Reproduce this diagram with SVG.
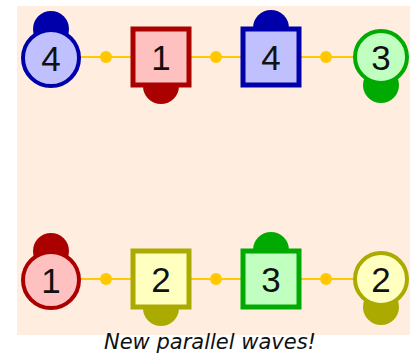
<svg xmlns="http://www.w3.org/2000/svg" width="410" height="354" viewBox="0 0 410 354">
<style>
.lbl{font-family:"Liberation Sans",Arial,sans-serif;font-size:35px;fill:#111;text-anchor:middle;dominant-baseline:central}
.cap{font-family:"DejaVu Sans",Verdana,sans-serif;font-style:italic;font-size:21px;fill:#111;text-anchor:middle}
.ln{stroke:#ffc800;stroke-width:2}
.dot{fill:#ffc800}
.blue{fill:#c0c0ff;stroke:#0000aa}
.red{fill:#ffc0c0;stroke:#aa0000}
.green{fill:#c0ffc0;stroke:#00aa00}
.olive{fill:#ffffc0;stroke:#aaaa00}
.sq{stroke-width:5}
.ci{stroke-width:4}
</style>
<rect x="17" y="6" width="393" height="329" fill="#ffeedf"/>
<g id="connectors">
<line class="ln" x1="51" y1="57" x2="381" y2="57"/>
<line class="ln" x1="51" y1="279" x2="381" y2="279"/>
<circle class="dot" cx="106" cy="57" r="6"/>
<circle class="dot" cx="216" cy="57" r="6"/>
<circle class="dot" cx="326" cy="57" r="6"/>
<circle class="dot" cx="106" cy="279" r="6"/>
<circle class="dot" cx="216" cy="279" r="6"/>
<circle class="dot" cx="326" cy="279" r="6"/>
</g>
<g id="n1">
<circle cx="51" cy="29" r="18" fill="#0000aa"/>
<circle class="blue ci" cx="51" cy="58" r="28"/>
<text class="lbl" x="51" y="58">4</text>
</g>
<g id="n2">
<circle cx="161" cy="86" r="18" fill="#aa0000"/>
<rect class="red sq" x="133" y="29" width="56" height="56"/>
<text class="lbl" x="161" y="57">1</text>
</g>
<g id="n3">
<circle cx="271" cy="28" r="18" fill="#0000aa"/>
<rect class="blue sq" x="243" y="29" width="56" height="56"/>
<text class="lbl" x="271" y="57">4</text>
</g>
<g id="n4">
<circle cx="381" cy="85" r="18" fill="#00aa00"/>
<circle class="green ci" cx="381" cy="57" r="26"/>
<text class="lbl" x="381" y="57">3</text>
</g>
<g id="n5">
<circle cx="51" cy="251" r="18" fill="#aa0000"/>
<circle class="red ci" cx="51" cy="280" r="28"/>
<text class="lbl" x="51" y="280">1</text>
</g>
<g id="n6">
<circle cx="161" cy="308" r="18" fill="#aaaa00"/>
<rect class="olive sq" x="133" y="251" width="56" height="56"/>
<text class="lbl" x="161" y="279">2</text>
</g>
<g id="n7">
<circle cx="271" cy="250" r="18" fill="#00aa00"/>
<rect class="green sq" x="243" y="251" width="56" height="56"/>
<text class="lbl" x="271" y="279">3</text>
</g>
<g id="n8">
<circle cx="381" cy="307" r="18" fill="#aaaa00"/>
<circle class="olive ci" cx="381" cy="279" r="26"/>
<text class="lbl" x="381" y="279">2</text>
</g>
<text class="cap" x="210" y="349">New parallel waves!</text>
</svg>
